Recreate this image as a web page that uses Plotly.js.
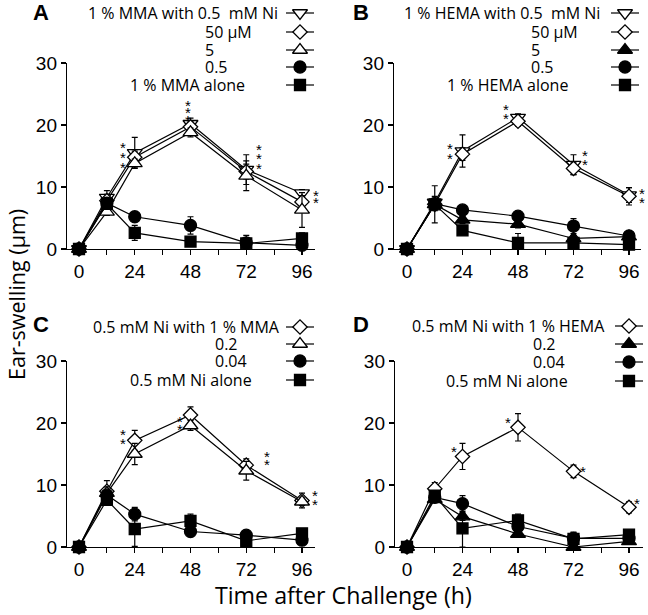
<!DOCTYPE html>
<html>
<head>
<meta charset="utf-8">
<script src="https://cdn.plot.ly/plotly-3.0.1.min.js"></script>
<style>html,body{margin:0;padding:0;background:#fff;}#chart{width:648px;height:615px;}</style>
</head>
<body>
<div id="chart"></div>
<script>
// ---------------- DATA ----------------
const times = [0, 12, 24, 48, 72, 96];
const xTickVals = [0, 12, 24, 36, 48, 60, 72, 84, 96];
const xTickText = ['0', '', '24', '', '48', '', '72', '', '96'];
const yTickVals = [0, 10, 20, 30];

// Panel A: 1 % MMA with Ni
const aLabels = ['1 % MMA with 0.5\u00a0 mM Ni', '50 \u03bcM', '5', '0.5', '1 % MMA alone'];
const aNi05  = [0, 8.3, 15.5, 20.2, 12.8, 9.0];
const aNi05E = [0, 1.1, 2.5, 0.9, 2.4, 0.6];
const aNi50u  = [0, 7.8, 14.8, 19.7, 12.5, 7.6];
const aNi50uE = [0, 1.0, 1.0, 0.8, 1.2, 1.0];
const aNi5  = [0, 6.0, 13.8, 18.8, 11.8, 6.3];
const aNi5E = [0, 0.6, 0.7, 0.7, 2.4, 2.8];
const aNi05u  = [0, 7.4, 5.2, 3.8, 1.0, 0.6];
const aNi05uE = [0, 0.5, 0.5, 1.4, 1.2, 0.6];
const aAlone  = [0, 7.3, 2.6, 1.2, 0.9, 1.7];
const aAloneE = [0, 0.6, 1.2, 0.5, 0.8, 0.9];

// Panel B: 1 % HEMA with Ni
const bLabels = ['1 % HEMA with 0.5\u00a0 mM Ni', '50 \u03bcM', '5', '0.5', '1 % HEMA alone'];
const bNi05  = [0, 7.5, 15.8, 21.2, 13.6, 8.7];
const bNi05E = [0, 1.0, 2.6, 0.6, 1.6, 1.2];
const bNi50u  = [0, 7.2, 15.3, 20.6, 13.0, 8.5];
const bNi50uE = [0, 1.0, 1.0, 0.8, 1.0, 1.4];
const bNi5  = [0, 7.2, 4.7, 4.0, 1.7, 2.0];
const bNi5E = [0, 0.6, 0.6, 0.6, 0.5, 0.5];
const bNi05u  = [0, 7.3, 6.3, 5.3, 3.7, 2.1];
const bNi05uE = [0, 0.6, 0.5, 0.5, 1.2, 0.5];
const bAlone  = [0, 7.2, 3.0, 1.0, 1.0, 0.7];
const bAloneE = [0, 3.0, 0.5, 1.5, 0.8, 0.8];

// Panel C: 0.5 mM Ni with MMA
const cLabels = ['0.5 mM Ni with 1 % MMA', '0.2', '0.04', '0.5 mM Ni alone'];
const cMma1  = [0, 9.0, 17.2, 21.3, 13.2, 7.5];
const cMma1E = [0, 1.7, 1.6, 1.3, 1.0, 1.2];
const cMma02  = [0, 8.7, 15.0, 19.6, 12.3, 7.3];
const cMma02E = [0, 1.0, 1.7, 0.8, 1.5, 0.6];
const cMma004  = [0, 8.4, 5.3, 2.5, 1.9, 1.1];
const cMma004E = [0, 0.6, 1.1, 0.5, 0.5, 0.5];
const cAlone  = [0, 7.6, 2.9, 4.2, 1.0, 2.2];
const cAloneE = [0, 0.6, 2.8, 1.1, 1.1, 0.5];

// Panel D: 0.5 mM Ni with HEMA
const dLabels = ['0.5 mM Ni with 1 % HEMA', '0.2', '0.04', '0.5 mM Ni alone'];
const dHema1  = [0, 9.4, 14.6, 19.3, 12.2, 6.4];
const dHema1E = [0, 1.0, 2.1, 2.2, 1.0, 0.9];
const dHema02  = [0, 7.7, 4.9, 2.1, 0.0, 0.9];
const dHema02E = [0, 0.5, 0.6, 0.5, 0.5, 0.5];
const dHema004  = [0, 8.0, 7.0, 3.3, 1.4, 1.4];
const dHema004E = [0, 0.5, 1.3, 0.6, 1.0, 0.5];
const dAlone  = [0, 8.3, 3.0, 4.3, 1.3, 2.0];
const dAloneE = [0, 0.6, 3.0, 1.0, 0.9, 0.5];

// Significance marks (time, number of asterisks)
const aStars = [[24, 3], [48, 3], [72, 3], [96, 2]];
const bStars = [[24, 2], [48, 2], [72, 2], [96, 2]];
const cStars = [[24, 2], [48, 2], [72, 2], [96, 2]];
const dStars = [[24, 1], [48, 1], [72, 1], [96, 1]];

// ---------------- LAYOUT / STYLE ----------------
const W = 648, H = 615;
const px = x => x / W;
const py = y => 1 - y / H;

const SYM = {
  tdo: {symbol: 'triangle-down', color: '#fff', size: 13},
  dio: {symbol: 'diamond', color: '#fff', size: 11},
  tuo: {symbol: 'triangle-up', color: '#fff', size: 13},
  tuf: {symbol: 'triangle-up', color: '#000', size: 13},
  cif: {symbol: 'circle', color: '#000', size: 12},
  sqf: {symbol: 'square', color: '#000', size: 11}
};

// star placement: [x in hours, y centre of stack, gap between stars]
const panels = [
  {letter: 'A', letterPos: [41, 13], xs: [67, 315], t0: 79, t96: 302, yBot: 249, yTop: 63,
   series: [[aNi05, aNi05E, 'tdo'], [aNi50u, aNi50uE, 'dio'], [aNi5, aNi5E, 'tuo'], [aNi05u, aNi05uE, 'cif'], [aAlone, aAloneE, 'sqf']],
   labels: aLabels, rows: [13, 32, 50, 67, 85], textX: [[280, 'right'], [203, 'left'], [203, 'left'], [203, 'left'], [128, 'left']], symX: 300,
   stars: aStars, starPos: [[19, 15.4, 1.55], [46.8, 22.6, 1.25], [77.6, 15.2, 1.5], [102, 8.7, 1.2]]},
  {letter: 'B', letterPos: [361, 13], xs: [394, 641], t0: 407, t96: 629, yBot: 249, yTop: 63,
   series: [[bNi05, bNi05E, 'tdo'], [bNi50u, bNi50uE, 'dio'], [bNi5, bNi5E, 'tuf'], [bNi05u, bNi05uE, 'cif'], [bAlone, bAloneE, 'sqf']],
   labels: bLabels, rows: [13, 32, 50, 67, 85], textX: [[602, 'right'], [529, 'left'], [529, 'left'], [529, 'left'], [445, 'left']], symX: 625,
   stars: bStars, starPos: [[18.5, 16.1, 1.6], [42.6, 22.4, 1.4], [77, 15.0, 1.5], [101.7, 8.85, 1.5]]},
  {letter: 'C', letterPos: [41, 324], xs: [67, 315], t0: 79, t96: 302, yBot: 547, yTop: 361,
   series: [[cMma1, cMma1E, 'dio'], [cMma02, cMma02E, 'tuo'], [cMma004, cMma004E, 'cif'], [cAlone, cAloneE, 'sqf']],
   labels: cLabels, rows: [327, 344, 361, 380], textX: [[282, 'right'], [213, 'left'], [213, 'left'], [128, 'left']], symX: 300,
   stars: cStars, starPos: [[19.1, 18.05, 1.5], [43.5, 20.2, 1.3], [81, 14.55, 1.3], [101.7, 8.2, 1.4]]},
  {letter: 'D', letterPos: [361, 324], xs: [395, 643], t0: 407, t96: 629, yBot: 547, yTop: 361,
   series: [[dHema1, dHema1E, 'dio'], [dHema02, dHema02E, 'tuf'], [dHema004, dHema004E, 'cif'], [dAlone, dAloneE, 'sqf']],
   labels: dLabels, rows: [326, 344, 362, 381], textX: [[607, 'right'], [531, 'left'], [531, 'left'], [444, 'left']], symX: 629,
   stars: dStars, starPos: [[20.2, 16.1, 1.5], [43.6, 20.8, 1.5], [76.2, 12.9, 1.5], [99.6, 7.6, 1.5]]}
];

const TICKFONT = {family: 'Liberation Sans, Arial, sans-serif', size: 19, color: '#000'};
const LEGFONT = {family: 'Open Sans, sans-serif', size: 16, color: '#000'};
const STARFONT = {family: 'Liberation Sans, Arial, sans-serif', size: 15, color: '#000'};

const traces = [];
const annotations = [];
const layout = {
  width: W, height: H,
  margin: {l: 0, r: 0, t: 0, b: 0},
  paper_bgcolor: '#fff', plot_bgcolor: 'rgba(0,0,0,0)',
  showlegend: false,
  annotations: annotations
};

panels.forEach((p, i) => {
  const n = i + 1;
  const xk = n === 1 ? 'x' : 'x' + n;
  const yk = n === 1 ? 'y' : 'y' + n;
  const s = (p.t96 - p.t0) / 96;
  const xr = [(p.xs[0] - p.t0) / s, (p.xs[1] - p.t0) / s];
  layout['xaxis' + (n === 1 ? '' : n)] = {
    domain: [px(p.xs[0]), px(p.xs[1])], range: xr, anchor: yk,
    showline: true, linecolor: '#000', linewidth: 1.2, ticks: 'outside', ticklen: 5, tickwidth: 1.2, tickcolor: '#000',
    tickvals: xTickVals, ticktext: xTickText, tickfont: TICKFONT, showgrid: false, zeroline: false, fixedrange: true
  };
  layout['yaxis' + (n === 1 ? '' : n)] = {
    domain: [py(p.yBot), py(p.yTop)], range: [0, 30], anchor: xk,
    showline: true, linecolor: '#000', linewidth: 1.2, ticks: 'outside', ticklen: 5, tickwidth: 1.2, tickcolor: '#000',
    tickvals: yTickVals, tickfont: TICKFONT, showgrid: false, zeroline: false, fixedrange: true
  };
  // data series (open markers first, filled on top)
  p.series.forEach(([vals, errs, sk]) => {
    const m = SYM[sk];
    traces.push({
      type: 'scatter', mode: 'lines+markers', x: times, y: vals, xaxis: xk, yaxis: yk,
      line: {color: '#000', width: 1.2},
      marker: {symbol: m.symbol, size: m.size, color: m.color, line: {color: '#000', width: 1.3}},
      error_y: {type: 'data', array: errs, visible: true, color: '#000', thickness: 1.2, width: 3},
      cliponaxis: false, hoverinfo: 'skip'
    });
  });
  // legend symbols on overlay pixel axes
  p.series.forEach(([vals, errs, sk], r) => {
    const m = SYM[sk];
    const ry = p.rows[r];
    traces.push({type: 'scatter', mode: 'lines', x: [p.symX - 14, p.symX + 14], y: [ry, ry], xaxis: 'x5', yaxis: 'y5',
      line: {color: '#000', width: 1.2}, hoverinfo: 'skip', cliponaxis: false});
    traces.push({type: 'scatter', mode: 'markers', x: [p.symX], y: [ry], xaxis: 'x5', yaxis: 'y5',
      marker: {symbol: m.symbol, size: m.size, color: m.color, line: {color: '#000', width: 1.3}}, hoverinfo: 'skip', cliponaxis: false});
    annotations.push({xref: 'paper', yref: 'paper', x: px(p.textX[r][0]), y: py(ry), xanchor: p.textX[r][1], yanchor: 'middle',
      text: p.labels[r], showarrow: false, font: LEGFONT});
  });
  // panel letter
  annotations.push({xref: 'paper', yref: 'paper', x: px(p.letterPos[0]), y: py(p.letterPos[1]), xanchor: 'center', yanchor: 'middle',
    text: '<b>' + p.letter + '</b>', showarrow: false, font: {family: 'Liberation Sans, Arial, sans-serif', size: 22, color: '#000'}});
  // asterisks: anchored at their time point, shifted sideways in pixels
  p.stars.forEach(([t, cnt], k) => {
    const [xh, yc, gap] = p.starPos[k];
    for (let j = 0; j < cnt; j++) {
      annotations.push({xref: xk, yref: yk, x: t, xshift: (xh - t) * s,
        y: yc + ((cnt - 1) / 2 - j) * gap, yshift: -4,
        xanchor: 'center', yanchor: 'middle', text: '*', showarrow: false, font: STARFONT});
    }
  });
});

layout.xaxis5 = {domain: [0, 1], range: [0, W], anchor: 'y5', visible: false, fixedrange: true};
layout.yaxis5 = {domain: [0, 1], range: [H, 0], anchor: 'x5', visible: false, fixedrange: true};

// shared axis titles
annotations.push({xref: 'paper', yref: 'paper', x: px(343), y: py(595), xanchor: 'center', yanchor: 'middle',
  text: 'Time after Challenge (h)', showarrow: false, font: {family: 'Open Sans, sans-serif', size: 23.2, color: '#000'}});
annotations.push({xref: 'paper', yref: 'paper', x: px(16), y: py(295), xanchor: 'center', yanchor: 'middle', textangle: -90,
  text: 'Ear-swelling (\u03bcm)', showarrow: false, font: {family: 'Open Sans, sans-serif', size: 21.5, color: '#000'}});

Plotly.newPlot('chart', traces, layout, {staticPlot: true, displayModeBar: false});
</script>
</body>
</html>
